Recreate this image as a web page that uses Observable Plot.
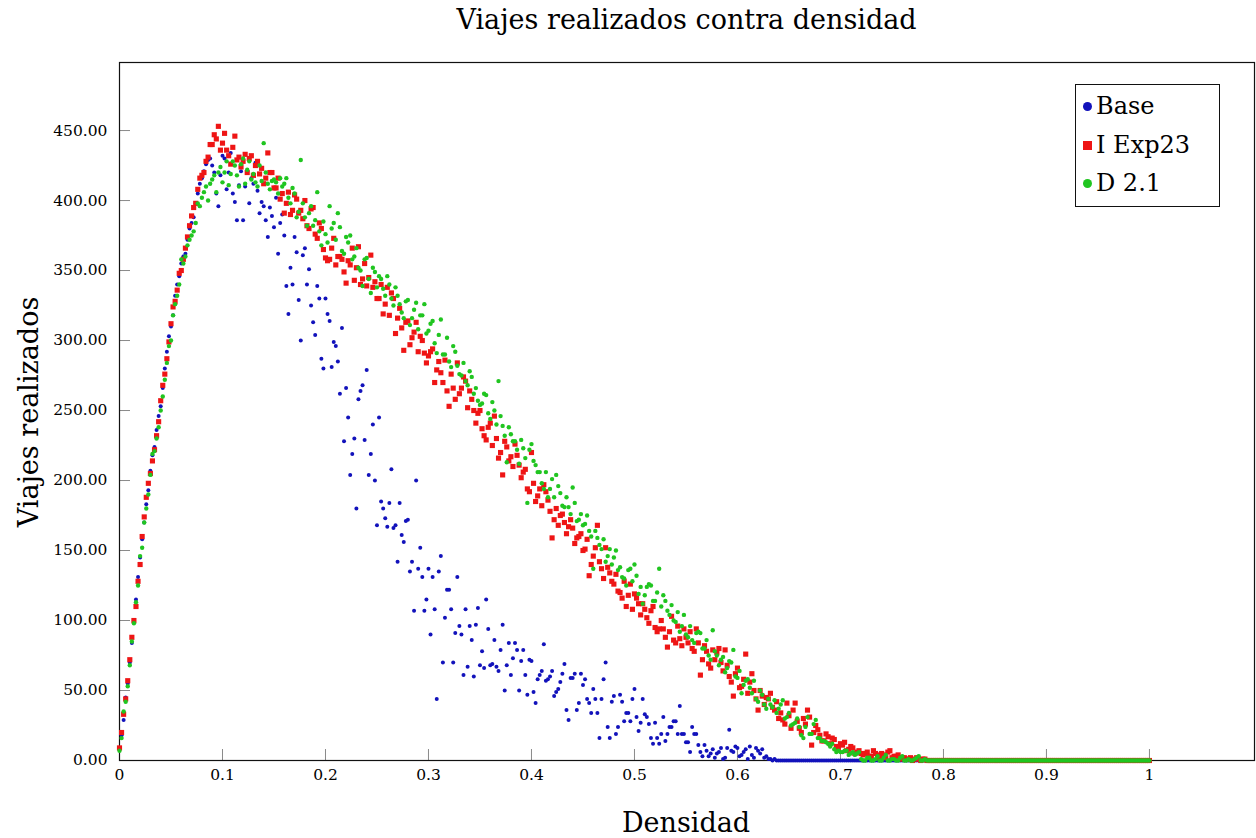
<!DOCTYPE html>
<html>
<head>
<meta charset="utf-8">
<script src="https://cdn.jsdelivr.net/npm/d3@7"></script>
<script src="https://cdn.jsdelivr.net/npm/@observablehq/plot@0.6"></script>
<style>
  html, body { margin: 0; padding: 0; background: #fff; }
  #wrap { position: relative; width: 1256px; height: 838px; font-family: "DejaVu Serif", serif; color: #000; }
  #title { position: absolute; left: 119px; width: 1135px; top: 5px; text-align: center; font-size: 27px; line-height: 30px; }
  #ylabel { position: absolute; left: 28px; top: 412px; transform: translate(-50%, -50%) rotate(-90deg); font-size: 27px; white-space: nowrap; }
  #xlabel { position: absolute; left: 686px; top: 822px; transform: translate(-50%, -50%); font-size: 27px; white-space: nowrap; }
  #legend { position: absolute; left: 1075px; top: 84px; width: 145px; height: 123px; box-sizing: border-box; border: 1.2px solid #111; background: #fff; }
  .row { position: absolute; left: 0; height: 30px; display: flex; align-items: center; font-size: 24px; white-space: nowrap; }
  .mk { display: inline-block; margin-left: 7px; margin-right: 4px; }
</style>
</head>
<body>
<div id="wrap">
  <div id="chart"></div>
  <div id="title">Viajes realizados contra densidad</div>
  <div id="ylabel">Viajes realizados</div>
  <div id="xlabel">Densidad</div>
  <div id="legend"></div>
</div>
<script>
// ---------- data ----------
// densidad grid A: 0, 0.004, ..., 1   (251 points)
// densidad grid B: 0.002, 0.006, ..., 0.998 (250 points)
const densidad = d3.range(251).map(i => +(i * 0.004).toFixed(3));
const densidadMid = d3.range(250).map(i => +(0.002 + i * 0.004).toFixed(3));

const base = [
  8,29,55,84,115,145,170,193,218,236,253,280,303,318,340,355,362,380,388,405,416,426,430,420,396,
  432,408,434,399,411,386,421,416,427,391,396,374,389,402,384,375,319,340,363,300,366,351,313,339,287,
  330,314,299,285,309,266,204,230,258,268,279,219,200,245,180,167,208,168,184,156,172,142,200,152,107,
  137,131,44,146,102,122,70,131,90,108,96,60,109,78,115,68,86,64,97,68,61,84,50,79,47,
  71,41,61,83,58,64,49,56,69,29,59,36,62,58,41,51,34,44,70,16,46,24,42,34,28,
  51,21,44,31,16,27,12,31,19,24,28,39,19,13,24,19,6,11,3,8,5,9,2,22,6,
  9,4,8,10,2,7,8,3,1,1,0,0,0,0,0,0,0,0,0,0,0,0,0,0,0,
  0,0,0,0,0,0,0,0,0,0,0,0,0,0,0,0,0,0,0,0,0,0,0,0,0,
  0,0,0,0,0,0,0,0,0,0,0,0,0,0,0,0,0,0,0,0,0,0,0,0,0,
  0,0,0,0,0,0,0,0,0,0,0,0,0,0,0,0,0,0,0,0,0,0,0,0,0,0
];
const baseMid = [
  18,45,70,100,131,158,183,207,224,246,266,292,310,332,346,360,372,384,398,412,421,429,425,405,418,
  430,420,405,386,421,410,398,412,407,399,386,395,381,362,390,339,352,374,329,361,340,325,304,330,280,
  319,281,296,262,228,245,219,180,264,229,204,240,168,185,173,184,166,142,161,171,135,107,137,131,115,
  90,108,135,70,122,108,91,96,61,67,86,97,68,66,94,69,67,79,50,84,73,79,71,61,72,
  49,58,64,57,60,46,51,62,36,59,62,41,54,44,34,44,16,58,24,42,19,47,28,34,44,
  31,27,33,26,12,16,19,14,24,28,19,19,13,6,19,11,3,7,5,2,6,1,9,7,10,
  3,6,1,4,9,5,2,1,0,0,0,0,0,0,0,0,0,0,0,0,0,0,0,0,0,
  0,0,0,0,0,0,0,0,0,0,0,0,0,0,0,0,0,0,0,0,0,0,0,0,0,
  0,0,0,0,0,0,0,0,0,0,0,0,0,0,0,0,0,0,0,0,0,0,0,0,0,
  0,0,0,0,0,0,0,0,0,0,0,0,0,0,0,0,0,0,0,0,0,0,0,0,0
];

const iExp23 = [
  9,33,57,88,110,140,174,198,214,232,257,276,299,324,336,350,366,382,395,408,418,428,440,447,453,
  441,436,426,446,431,428,420,432,425,419,412,434,420,409,401,391,406,393,401,393,400,380,395,373,380,
  359,358,373,360,358,341,354,343,367,344,339,361,342,330,319,338,334,305,323,293,314,302,313,303,291,
  289,294,279,277,286,253,266,284,266,271,264,250,248,237,229,241,246,216,204,224,217,226,211,206,194,
  220,185,194,197,186,159,180,175,170,167,166,159,162,151,132,146,168,137,152,134,126,121,116,110,126,
  119,112,112,102,107,95,94,94,81,103,84,87,94,84,80,94,61,82,69,79,77,70,79,60,46,
  66,53,76,56,50,36,46,45,48,36,30,29,41,23,41,23,30,36,11,25,18,14,17,16,10,
  12,13,8,9,6,5,5,3,7,4,5,2,7,3,4,2,1,2,1,1,1,0,0,0,0,
  0,0,0,0,0,0,0,0,0,0,0,0,0,0,0,0,0,0,0,0,0,0,0,0,0,
  0,0,0,0,0,0,0,0,0,0,0,0,0,0,0,0,0,0,0,0,0,0,0,0,0,0
];
const iExp23Mid = [
  20,44,72,100,128,160,188,205,222,242,268,287,312,328,348,358,374,389,398,416,420,431,440,444,436,
  448,432,438,429,424,433,430,418,428,423,416,420,409,416,405,398,390,404,391,387,382,394,376,384,365,
  357,366,354,360,349,357,366,352,340,355,345,338,330,340,326,318,330,316,309,313,297,306,292,300,284,
  292,270,285,270,264,276,258,262,274,252,258,241,250,232,238,225,230,220,228,214,210,218,202,208,192,
  198,189,182,192,178,172,168,176,162,172,155,160,150,158,140,152,142,130,138,128,133,120,128,118,108,
  116,104,108,98,110,92,100,88,92,86,96,82,88,92,78,84,72,78,66,72,80,64,68,56,62,
  52,58,48,62,44,50,40,44,38,42,34,26,32,36,28,20,26,31,20,22,14,19,12,15,9,
  11,7,10,5,7,4,6,3,5,2,4,6,2,3,1,2,1,0,2,0,1,0,0,0,0,
  0,0,0,0,0,0,0,0,0,0,0,0,0,0,0,0,0,0,0,0,0,0,0,0,0,
  0,0,0,0,0,0,0,0,0,0,0,0,0,0,0,0,0,0,0,0,0,0,0,0,0
];

const d21 = [
  7,35,53,85,113,146,170,190,219,230,250,272,296,318,332,358,360,372,378,398,402,410,412,418,420,
  413,428,419,425,410,430,422,415,413,425,441,412,414,413,416,412,402,409,388,429,388,391,382,406,368,
  376,396,384,391,364,374,375,360,352,339,359,334,349,346,337,346,330,338,326,316,329,316,327,318,326,
  307,314,291,315,290,285,296,282,275,271,278,262,257,255,261,244,250,271,239,213,233,228,212,223,184,
  226,211,206,194,188,201,204,191,181,181,195,171,176,169,164,137,159,151,142,151,145,136,131,125,137,
  140,119,112,124,125,114,137,118,107,111,99,92,104,88,86,91,91,80,75,93,75,72,63,71,79,
  59,48,57,52,57,42,47,37,40,43,37,43,31,25,27,24,16,31,19,29,16,14,12,12,6,
  6,7,4,6,5,1,0,2,0,3,0,4,0,1,0,3,0,0,1,3,0,0,0,0,0,
  0,0,0,0,0,0,0,0,0,0,0,0,0,0,0,0,0,0,0,0,0,0,0,0,0,
  0,0,0,0,0,0,0,0,0,0,0,0,0,0,0,0,0,0,0,0,0,0,0,0,0,0
];
const d21Mid = [
  16,42,68,98,125,152,180,204,221,238,260,284,300,326,340,355,368,375,384,396,406,400,415,406,424,
  420,411,428,418,426,412,428,419,410,414,420,408,415,405,410,416,398,405,392,398,382,396,386,378,385,
  370,380,372,381,362,370,358,366,350,358,344,352,338,344,332,340,325,332,320,328,311,322,308,318,305,
  312,298,304,290,302,281,292,276,284,268,274,266,254,262,248,256,240,246,232,238,228,222,229,216,222,
  214,206,198,206,194,188,196,182,188,176,184,172,168,175,160,164,154,158,146,140,150,138,130,136,128,
  132,124,118,126,114,120,110,114,104,100,106,96,90,96,84,92,80,86,72,78,68,74,66,70,60,
  64,54,58,48,44,50,40,44,38,34,40,30,34,26,30,18,24,19,26,16,14,13,10,8,7,
  6,7,5,4,6,0,2,0,1,0,2,0,1,0,2,0,1,0,2,0,1,0,0,0,0,
  0,0,0,0,0,0,0,0,0,0,0,0,0,0,0,0,0,0,0,0,0,0,0,0,0,
  0,0,0,0,0,0,0,0,0,0,0,0,0,0,0,0,0,0,0,0,0,0,0,0,0
];

const seriesNames = ["Base", "I Exp23", "D 2.1"];
const xTicks = [0, 0.1, 0.2, 0.3, 0.4, 0.5, 0.6, 0.7, 0.8, 0.9, 1];
const xTickLabels = ["0", "0.1", "0.2", "0.3", "0.4", "0.5", "0.6", "0.7", "0.8", "0.9", "1"];
const yTicks = [0, 50, 100, 150, 200, 250, 300, 350, 400, 450];

// sanity check of the hand-entered arrays
[base, iExp23, d21].forEach(a => { if (a.length !== densidad.length) throw new Error("length " + a.length); });
[baseMid, iExp23Mid, d21Mid].forEach(a => { if (a.length !== densidadMid.length) throw new Error("mid length " + a.length); });

// table for each series: both grids merged, in order of density
function rows(a, b) {
  const r = densidad.map((x, i) => ({x, y: a[i]})).concat(densidadMid.map((x, i) => ({x, y: b[i]})));
  return r.sort((p, q) => p.x - q.x);
}
const tables = {
  "Base": rows(base, baseMid),
  "I Exp23": rows(iExp23, iExp23Mid),
  "D 2.1": rows(d21, d21Mid)
};

// ---------- styling ----------
const colors = {"Base": "#1212bb", "I Exp23": "#ee1515", "D 2.1": "#20c520"};
const W = 1256, H = 838;
const mL = 119, mR = 2, mT = 62, mB = 78;
const plotW = W - mL - mR, plotH = H - mT - mB;
const tickLen = 11;

const chart = Plot.plot({
  width: W,
  height: H,
  marginLeft: mL,
  marginRight: mR,
  marginTop: mT,
  marginBottom: mB,
  style: {fontFamily: "DejaVu Serif, serif", fontSize: "15.5px", background: "#fff", color: "#000"},
  x: {domain: [0, 1.102]},
  y: {domain: [0, 498.6]},
  marks: [
    Plot.tickX(xTicks, {x: d => d, stroke: "#8a8a8a", strokeWidth: 1, insetTop: plotH - tickLen}),
    Plot.tickY(yTicks, {y: d => d, stroke: "#8a8a8a", strokeWidth: 1, insetRight: plotW - tickLen}),
    Plot.axisX({ticks: xTicks, tickSize: 0, tickPadding: 8, label: null,
      tickFormat: d => xTickLabels[xTicks.indexOf(d)]}),
    Plot.axisY({ticks: yTicks, tickSize: 0, tickPadding: 12, label: null, tickFormat: d3.format(".2f")}),
    Plot.frame({stroke: "#111", strokeWidth: 1.2}),
    Plot.dot(tables["Base"], {x: "x", y: "y", r: 2, fill: colors["Base"]}),
    Plot.dot(tables["I Exp23"], {x: "x", y: "y", r: 2.9, symbol: "square", fill: colors["I Exp23"]}),
    Plot.dot(tables["D 2.1"], {x: "x", y: "y", r: 2.2, fill: colors["D 2.1"]})
  ]
});
document.getElementById("chart").appendChild(chart);

// ---------- legend ----------
const legend = document.getElementById("legend");
const rowTops = [6, 45, 83];
seriesNames.forEach((name, i) => {
  const row = document.createElement("div");
  row.className = "row";
  row.style.top = rowTops[i] + "px";
  const mk = document.createElement("span");
  mk.className = "mk";
  mk.style.width = "9px"; mk.style.height = "9px";
  if (name !== "I Exp23") mk.style.borderRadius = "50%";
  mk.style.background = colors[name];
  const tx = document.createElement("span");
  tx.textContent = name;
  row.appendChild(mk);
  row.appendChild(tx);
  legend.appendChild(row);
});
</script>
</body>
</html>
